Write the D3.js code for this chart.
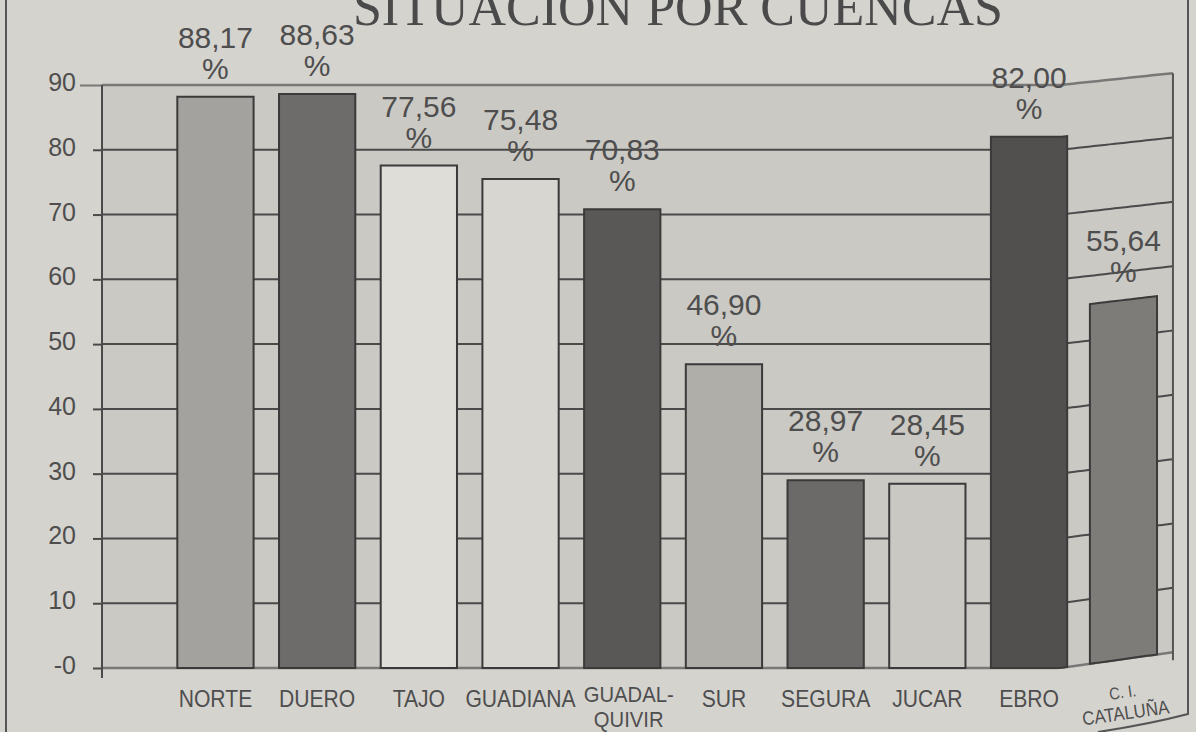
<!DOCTYPE html>
<html><head><meta charset="utf-8">
<script src="https://cdn.jsdelivr.net/npm/d3@7"></script>
<style>
html,body{margin:0;padding:0;background:#d5d3ce;}
svg{display:block;}
</style></head><body>
<svg id="c" width="1196" height="732"></svg>
<script>
const title = "SITUACION POR CUENCAS";
const categories = ["NORTE","DUERO","TAJO","GUADIANA","GUADALQUIVIR","SUR","SEGURA","JUCAR","EBRO","C.I. CATALUÑA"];
const categoryLabels = [["NORTE"],["DUERO"],["TAJO"],["GUADIANA"],["GUADAL-","QUIVIR"],["SUR"],["SEGURA"],["JUCAR"],["EBRO"],["C. I.","CATALUÑA"]];
const values = [88.17,88.63,77.56,75.48,70.83,46.90,28.97,28.45,82.00,55.64];
const yTicks = [0,10,20,30,40,50,60,70,80,90];
const yTickLabels = ["-0","10","20","30","40","50","60","70","80","90"];
const barColors = ["#a4a29e","#6e6c6a","#dfddd8","#d8d6d1","#5a5856","#b0aea9","#6c6a68","#cac8c3","#52504e","#7e7c79"];

const W = 1196, H = 732;
const plotL = 102, plotR = 1187, plotT = 85, plotB = 668;
const svg = d3.select("#c");
const x = d3.scaleBand().domain(categories).range([164.6, 1181.6]).paddingInner(0.25).paddingOuter(0.125);
const y = d3.scaleLinear().domain([0, 90]).range([plotB, plotT]);

// curl of the scanned page on the right-hand side
const cx0 = 1070, cxk = 0.88, ty0 = 1060;
function warp(px, py) {
  const wx = px > cx0 ? cx0 + (px - cx0) * cxk : px;
  const t = Math.max(0, wx - ty0);
  const k = 0.105 + 0.035 * (py - plotT) / (plotB - plotT);
  return [wx, py - t * k];
}
function wpath(pts, closed) {
  const out = [];
  for (let i = 0; i < pts.length - (closed ? 0 : 1); i++) {
    const a = pts[i], b = pts[(i + 1) % pts.length];
    const n = Math.max(1, Math.ceil(Math.hypot(b[0] - a[0], b[1] - a[1]) / 6));
    for (let j = 0; j < n; j++) {
      const t = j / n;
      out.push(warp(a[0] + (b[0] - a[0]) * t, a[1] + (b[1] - a[1]) * t));
    }
  }
  if (!closed) out.push(warp(...pts[pts.length - 1]));
  return d3.line()(out) + (closed ? "Z" : "");
}

svg.append("rect").attr("width", W).attr("height", H).attr("fill", "#d5d3ce");

// plot wall
svg.append("path")
  .attr("d", wpath([[plotL, plotT], [plotR, plotT], [plotR, plotB], [plotL, plotB]], true))
  .attr("fill", "#cbc9c4");

// gridlines
const grid = svg.append("g");
yTicks.filter(t => t > 0 && t < 90).forEach(t => {
  grid.append("path").attr("d", wpath([[plotL, y(t)], [plotR, y(t)]], false))
    .attr("fill", "none").attr("stroke", "#4a4a4a").attr("stroke-width", 2);
});
grid.append("path").attr("d", wpath([[plotL, y(90)], [plotR, y(90)]], false))
  .attr("fill", "none").attr("stroke", "#7a7876").attr("stroke-width", 2.5);
grid.append("path").attr("d", wpath([[plotL, y(0)], [plotR, y(0)]], false))
  .attr("fill", "none").attr("stroke", "#7a7876").attr("stroke-width", 2.5);
grid.append("path").attr("d", wpath([[plotR, plotT], [plotR, plotB + 8]], false))
  .attr("fill", "none").attr("stroke", "#555").attr("stroke-width", 2);

// left axis
const yAxis = d3.axisLeft(y).tickValues(yTicks)
  .tickFormat((d, i) => yTickLabels[i]).tickSize(9).tickPadding(17);
const ag = svg.append("g").attr("transform", `translate(${plotL},0)`).call(yAxis);
ag.select(".domain").remove();
ag.selectAll(".tick line").attr("stroke", "#4a4a4a").attr("stroke-width", 2);
ag.selectAll(".tick").filter(d => d === 90).select("line").attr("x2", -22).attr("stroke", "#7a7876");
ag.selectAll(".tick text").attr("font-family", "'Liberation Sans', Arial, sans-serif")
  .attr("font-size", 25).attr("fill", "#4e4e4e").attr("dy", "0.22em");
svg.append("line").attr("x1", plotL).attr("x2", plotL).attr("y1", plotT).attr("y2", plotB + 10)
  .attr("stroke", "#4a4a4a").attr("stroke-width", 2);

// value labels (behind bars, as in the print)
const fmt = v => v.toFixed(2).replace(".", ",");
const lab = svg.append("g").attr("font-family", "'Liberation Sans', Arial, sans-serif")
  .attr("font-size", 30).attr("fill", "#4e4e4e").attr("text-anchor", "middle");
categories.forEach((c, i) => {
  const p = warp(x(c) + x.bandwidth() / 2, y(values[i]));
  lab.append("text").attr("x", p[0]).attr("y", p[1] - 18 - 31).text(fmt(values[i]));
  lab.append("text").attr("x", p[0]).attr("y", p[1] - 18).text("%");
});

// bars
svg.append("g").selectAll("path").data(categories).join("path")
  .attr("d", (c, i) => {
    const x0 = x(c), x1 = x(c) + x.bandwidth(), yt = y(values[i]), yb = y(0);
    return wpath([[x0, yb], [x0, yt], [x1, yt], [x1, yb]], true);
  })
  .attr("fill", (c, i) => barColors[i])
  .attr("stroke", "#3a3a3a").attr("stroke-width", 2);

// category labels
const xl = svg.append("g").attr("font-family", "'Liberation Sans', Arial, sans-serif")
  .attr("fill", "#4e4e4e").attr("text-anchor", "middle");
const sx = 0.88;
let prevRight = -Infinity;
categories.forEach((c, i) => {
  const cxu = x(c) + x.bandwidth() / 2;
  const lines = categoryLabels[i];
  const sc = cxu > cx0 ? 0.8 : 1;
  const multi = lines.length > 1 && sc === 1;
  const ly = multi ? 702 : 707;
  const p = warp(cxu, ly);
  const p2 = warp(cxu + 10, ly);
  const ang = Math.atan2(p2[1] - p[1], p2[0] - p[0]) * 180 / Math.PI;
  const g = xl.append("g");
  let maxW = 0;
  lines.forEach((t, k) => {
    const tx = g.append("text").attr("x", 0).attr("y", k * (sc < 1 ? 27 : 25))
      .attr("transform", `scale(${multi ? 0.92 : sx},1)`)
      .attr("font-size", (sc < 1 && k === 0) ? 21 : (multi ? 22 : 24)).text(t);
    maxW = Math.max(maxW, tx.node().getComputedTextLength() * sx * sc);
  });
  // keep neighbouring labels apart
  let cx = p[0];
  if (cx - maxW / 2 < prevRight + 10) cx = prevRight + 10 + maxW / 2;
  prevRight = cx + maxW / 2;
  g.attr("transform", `translate(${cx},${p[1]}) rotate(${ang}) scale(${sc})`);
});

// title
svg.append("text").attr("x", 678).attr("y", 25).attr("text-anchor", "middle")
  .attr("font-family", "'Liberation Serif', 'Times New Roman', serif")
  .attr("font-size", 52).attr("fill", "#4a4a4a").text(title);

// page frame
svg.append("line").attr("x1", 6).attr("x2", 6).attr("y1", 0).attr("y2", H)
  .attr("stroke", "#555").attr("stroke-width", 2);
svg.append("path").attr("d", "M1188,0 L1188,714 Q1150,724 1098,732")
  .attr("fill", "none").attr("stroke", "#555").attr("stroke-width", 2);
</script>
</body></html>
